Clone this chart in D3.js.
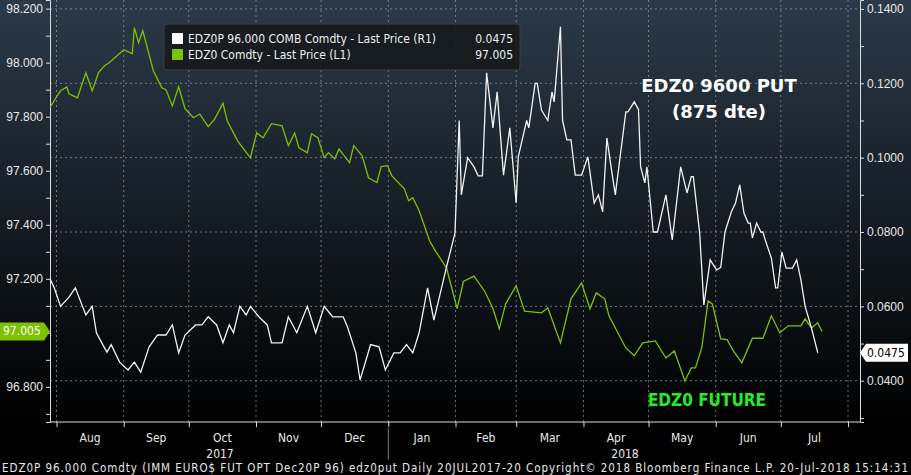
<!DOCTYPE html>
<html>
<head>
<meta charset="utf-8">
<title>EDZ0 put vs future</title>
<script src="https://cdn.jsdelivr.net/npm/d3@7"></script>
<style>
  body { margin: 0; background: #000; }
  svg { display: block; font-family: "DejaVu Sans Condensed", "Liberation Sans", sans-serif; }
</style>
</head>
<body>
<div id="chart"></div>
<script>
// trading-day index (0..366) from the start of the series
var futDays = [0,2,5,8,9,13,17,20,23,26,28,35,39,40,42,44,49,53,55,58,61,64,68,71,75,78,82,84,87,89,95,98,101,105,110,113,116,118,122,124,127,130,132,135,137,142,144,148,151,155,157,160,162,168,170,172,175,180,183,188,193,196,201,206,210,213,216,221,225,233,236,242,247,252,256,259,263,265,273,277,281,287,292,296,301,304,306,309,312,314,318,321,324,328,333,338,342,346,350,356,358,361,364,366];
var futVals = [97.833,97.86,97.896,97.91,97.885,97.87,97.963,97.896,97.963,97.99,98.0,98.048,98.033,98.13,98.074,98.118,97.97,97.907,97.9,97.84,97.911,97.83,97.796,97.81,97.763,97.79,97.85,97.785,97.74,97.71,97.648,97.74,97.722,97.774,97.766,97.693,97.74,97.685,97.667,97.737,97.722,97.648,97.667,97.644,97.68,97.63,97.693,97.655,97.574,97.556,97.615,97.619,97.582,97.533,97.489,97.5,97.452,97.34,97.30,97.24,97.09,97.19,97.21,97.155,97.09,97.015,97.107,97.174,97.08,97.074,97.093,96.963,97.126,97.185,97.089,97.148,97.126,97.063,96.944,96.915,96.963,96.97,96.907,96.933,96.822,96.87,96.87,96.944,97.118,97.107,96.978,96.975,96.933,96.889,96.98,96.98,97.063,97.0,97.026,97.026,97.052,97.018,97.037,97.005];

var putDays = [0,2,5,9,12,17,20,22,25,27,29,33,37,40,43,47,51,55,58,61,64,69,72,75,79,82,85,87,90,93,95,99,103,105,110,113,117,122,126,130,134,139,141,145,147,152,156,159,163,166,169,172,175,179,182,188,192,194,195,198,201,203,205,207,210,212,215,218,221,222,226,227,230,231,233,236,238,239,242,243,245,247,249,252,255,258,260,262,264,266,268,273,274,277,279,280,282,283,286,288,292,295,299,302,304,305,308,310,313,316,318,320,323,325,327,329,331,332,333,335,337,338,339,342,344,345,347,349,352,354,356,358,361,364];
var putVals = [0.0674,0.065,0.06,0.0625,0.065,0.0577,0.06,0.0529,0.0497,0.0477,0.0497,0.045,0.0429,0.0450,0.0423,0.0491,0.0523,0.0523,0.055,0.0475,0.0523,0.055,0.055,0.0572,0.055,0.0502,0.055,0.0529,0.06,0.0577,0.06,0.0572,0.055,0.0502,0.0502,0.0572,0.0529,0.06,0.0529,0.06,0.0572,0.0572,0.0545,0.0475,0.0402,0.0497,0.0491,0.0429,0.0475,0.0475,0.0497,0.0475,0.0529,0.065,0.0563,0.0706,0.0797,0.11,0.09,0.10,0.0975,0.0951,0.0951,0.1228,0.108,0.1177,0.0953,0.108,0.0878,0.1002,0.11,0.108,0.12,0.12,0.1128,0.11,0.1177,0.115,0.1352,0.11,0.1048,0.1048,0.0953,0.0953,0.1002,0.0878,0.09,0.0854,0.1053,0.0975,0.09,0.1123,0.1123,0.115,0.113,0.0975,0.0932,0.0975,0.08,0.08,0.09,0.0779,0.0975,0.0905,0.0949,0.0949,0.0797,0.0604,0.0725,0.0698,0.0705,0.08,0.0854,0.0878,0.0927,0.0851,0.0824,0.0824,0.0784,0.0824,0.08,0.08,0.078,0.073,0.065,0.065,0.0746,0.0703,0.0703,0.0725,0.0671,0.06,0.0542,0.0475];

var leftTicks = [96.8, 97.2, 97.4, 97.6, 97.8, 98.0, 98.2];
var rightTicks = [0.04, 0.06, 0.08, 0.10, 0.12, 0.14];
var monthLabels = ["Aug","Sep","Oct","Nov","Dec","Jan","Feb","Mar","Apr","May","Jun","Jul"];
var yearLabels = ["2017", "2018"];
var lastFut = 97.005, lastPut = 0.0475;

var W = 911, H = 475;
var t0 = new Date(2017, 6, 29), t1 = new Date(2018, 6, 20);
var span = d3.timeDay.count(t0, t1);
function dayDate(d) { return new Date(+t0 + (t1 - t0) * d / 366); }

var x = d3.scaleTime().domain([t0, t1]).range([50, 822]);
var yL = d3.scaleLinear().domain([96.67, 98.232]).range([422, 0]);
var yR = d3.scaleLinear().domain([0.0289, 0.1424]).range([422, 0]);

var svg = d3.select("#chart").append("svg").attr("width", W).attr("height", H);
var defs = svg.append("defs");
var g = defs.append("linearGradient").attr("id", "bg").attr("x1", 0).attr("x2", 0).attr("y1", 0).attr("y2", 1);
g.append("stop").attr("offset", "0%").attr("stop-color", "#2b3a49");
g.append("stop").attr("offset", "100%").attr("stop-color", "#000");
svg.append("rect").attr("width", W).attr("height", H).attr("fill", "#000");
svg.append("rect").attr("x", 0).attr("y", 0).attr("width", W).attr("height", 422).attr("fill", "url(#bg)");

// grid
var months = d3.timeMonth.range(new Date(2017, 7, 1), new Date(2018, 7, 2));
svg.selectAll(".vg").data(months).enter().append("line")
  .attr("x1", d => x(d)).attr("x2", d => x(d)).attr("y1", 0).attr("y2", 422)
  .attr("stroke", "#9aa0a6").attr("stroke-dasharray", "2,3").attr("stroke-width", 1).attr("opacity", 0.7);
svg.selectAll(".hg").data(rightTicks).enter().append("line")
  .attr("x1", 50).attr("x2", 860).attr("y1", d => yR(d)).attr("y2", d => yR(d))
  .attr("stroke", "#9aa0a6").attr("stroke-dasharray", "2,3").attr("stroke-width", 1).attr("opacity", 0.7);

// axes
var axL = d3.axisLeft(yL).tickValues(d3.range(96.7, 98.25, 0.1)).tickSize(4)
  .tickFormat(d => leftTicks.some(v => Math.abs(v - d) < 1e-6) ? d3.format(".3f")(d) : "");
var gl = svg.append("g").attr("transform", "translate(50,0)").call(axL);
var axR = d3.axisRight(yR).tickValues(d3.range(0.03, 0.145, 0.01)).tickSize(4)
  .tickFormat(d => rightTicks.some(v => Math.abs(v - d) < 1e-6) ? d3.format(".4f")(d) : "");
var gr = svg.append("g").attr("transform", "translate(860,0)").call(axR);
var axB = d3.axisBottom(x).tickValues(months).tickSize(5).tickFormat("");
var gb = svg.append("g").attr("transform", "translate(0,422)").call(axB);
[gl, gr, gb].forEach(function (a) {
  a.selectAll("path,line").attr("stroke", "#ddd");
  a.selectAll("text").attr("fill", "#e8e8e8").style("font-size", "12px");
});
gb.select(".domain").attr("d", "M50,0H860");

// month and year labels
svg.selectAll(".ml").data(monthLabels).enter().append("text")
  .attr("x", (d, i) => (x(months[i]) + x(months[i + 1])) / 2).attr("y", 442)
  .attr("text-anchor", "middle").attr("fill", "#e8e8e8").style("font-size", "12px").text(d => d);
svg.selectAll(".yl").data(yearLabels).enter().append("text")
  .attr("x", (d, i) => i === 0 ? 220 : 625).attr("y", 458)
  .attr("text-anchor", "middle").attr("fill", "#e8e8e8").style("font-size", "12px").text(d => d);
svg.append("line").attr("x1", x(new Date(2018, 0, 1))).attr("x2", x(new Date(2018, 0, 1)))
  .attr("y1", 428).attr("y2", 460).attr("stroke", "#777");

// lines
var lineF = d3.line().x((d, i) => x(dayDate(futDays[i]))).y(d => yL(d));
var lineP = d3.line().x((d, i) => x(dayDate(putDays[i]))).y(d => yR(d));
svg.append("path").datum(futVals).attr("d", lineF).attr("fill", "none").attr("stroke", "#7dc200").attr("stroke-width", 1.3);
svg.append("path").datum(putVals).attr("d", lineP).attr("fill", "none").attr("stroke", "#f2f2f2").attr("stroke-width", 1.3);

// last value tags
var tf = svg.append("g").attr("transform", "translate(0," + yL(lastFut) + ")");
tf.append("path").attr("d", "M0,-9H44L50,0L44,9H0Z").attr("fill", "#7dc200");
tf.append("text").attr("x", 3).attr("y", 4).attr("fill", "#fff").style("font-size", "12px").text(d3.format(".3f")(lastFut));
var tp = svg.append("g").attr("transform", "translate(860," + yR(lastPut) + ")");
tp.append("path").attr("d", "M0,0L6,-9H48V9H6Z").attr("fill", "#fff");
tp.append("text").attr("x", 7).attr("y", 4).attr("fill", "#000").style("font-size", "12px").text(d3.format(".4f")(lastPut));

// legend
var lg = svg.append("g").attr("transform", "translate(164,24)");
lg.append("rect").attr("width", 356).attr("height", 46).attr("rx", 3)
  .attr("fill", "#15191d").attr("fill-opacity", 0.9).attr("stroke", "#3a3f44");
var items = [
  { c: "#fff", t: "EDZ0P 96.000 COMB Comdty - Last Price (R1)", v: d3.format(".4f")(lastPut) },
  { c: "#7dc200", t: "EDZ0 Comdty - Last Price (L1)", v: d3.format(".3f")(lastFut) }
];
items.forEach(function (it, i) {
  lg.append("rect").attr("x", 8).attr("y", 9 + i * 16).attr("width", 11).attr("height", 11).attr("fill", it.c);
  lg.append("text").attr("x", 24).attr("y", 19 + i * 16).attr("fill", "#eee").style("font-size", "12px").text(it.t);
  lg.append("text").attr("x", 349).attr("y", 19 + i * 16).attr("text-anchor", "end").attr("fill", "#eee").style("font-size", "12px").text(it.v);
});

// annotations
svg.append("text").attr("x", 719).attr("y", 92).attr("text-anchor", "middle").attr("fill", "#fff")
  .style("font-size", "18px").style("font-weight", "bold").style("font-family", "DejaVu Sans").text("EDZ0 9600 PUT");
svg.append("text").attr("x", 719).attr("y", 118).attr("text-anchor", "middle").attr("fill", "#fff")
  .style("font-size", "18px").style("font-weight", "bold").style("font-family", "DejaVu Sans").text("(875 dte)");
svg.append("text").attr("x", 707).attr("y", 406).attr("text-anchor", "middle").attr("fill", "#22ee22")
  .style("font-size", "17px").style("font-weight", "bold").style("font-family", "DejaVu Sans Condensed").text("EDZ0 FUTURE");

// footer
svg.append("text").attr("x", 2).attr("y", 472).attr("fill", "#e8e8e8").style("font-size", "11.5px")
  .attr("textLength", 906)
  .text("EDZ0P 96.000 Comdty (IMM EURO$ FUT OPT Dec20P    96) edz0put  Daily 20JUL2017-20  Copyright\u00a9 2018 Bloomberg Finance L.P.  20-Jul-2018 15:14:31");
</script>
</body>
</html>
